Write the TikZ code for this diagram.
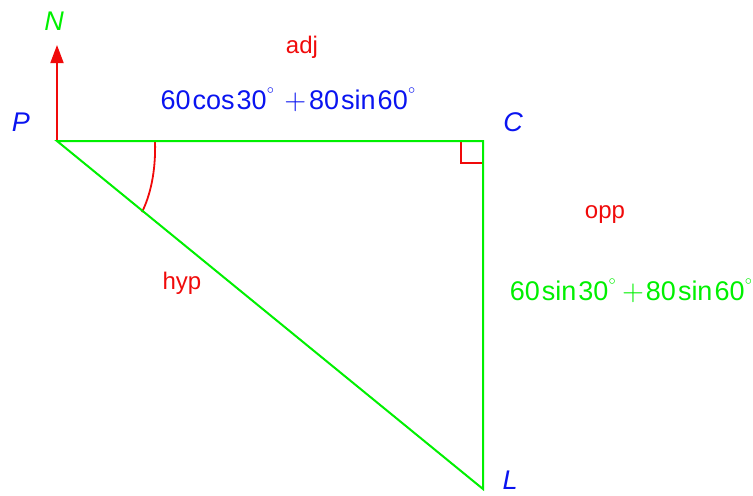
\documentclass[tikz,border=0pt]{standalone}
\usepackage{fontspec}
\setmainfont{Liberation Sans}
\usepackage{tikz}
\usetikzlibrary{arrows.meta}
\definecolor{TriGreen}{HTML}{00F000}
\definecolor{TriBlue}{HTML}{0A14F0}
\definecolor{TriRed}{HTML}{F00A0A}
\newcommand{\dg}{\raisebox{1.1ex}{\fontsize{6}{6}\selectfont$\circ$}}
\tikzset{
  side/.style={TriGreen,line width=1pt},
  redline/.style={TriRed,line width=0.9pt},
  lbl/.style={font=\fontsize{12}{14}\selectfont},
  vallbl/.style={inner sep=0pt,font=\fontsize{13.5}{15}\selectfont},
  vtx/.style={inner sep=0pt,font=\fontsize{13.5}{15}\selectfont\itshape}
}
\begin{document}
\begin{tikzpicture}[x=0.5pt,y=-0.5pt]
\path[use as bounding box] (0,0) rectangle (753,495);
\coordinate (P) at (57,141);
\coordinate (C) at (483,141);
\coordinate (L) at (483,489);
\coordinate (N) at (57,45);
% north arrow
\draw[redline,-{Triangle[length=9pt,width=6.5pt]}] (P) -- (N);
% right angle at C
\draw[redline] (461,141) -- (461,163) -- (483,163);
% angle at P
\coordinate (arcA) at (155,141);
\coordinate (arcB) at (142,212);
\draw[redline] (arcA) .. controls (156,172) and (150,196) .. (arcB);
% triangle
\draw[side] (P) -- (C) -- (L) -- cycle;
% vertices
\node[vtx,TriGreen] (nN) at (54,21) {N};
\node[vtx,TriBlue] (nP) at (21,122) {P};
\node[vtx,TriBlue] (nC) at (513,122) {C};
\node[vtx,TriBlue] (nL) at (510,480) {L};
% sides
\node[lbl,TriRed] (adj) at (302,47) {adj};
\node[vallbl,TriBlue] (adjval) at (288,100) {60\kern1pt cos\kern1pt 30\dg\kern5pt$+$\kern1.5pt80\kern1pt sin\kern1pt 60\dg};
\node[lbl,TriRed] (opp) at (605,215) {opp};
\node[vallbl,TriGreen] (oppval) at (631,291) {60\kern1pt sin\kern1pt 30\dg\kern3pt$+$\kern1pt80\kern1pt sin\kern1pt 60\dg};
\node[lbl,TriRed] (hyp) at (182,283) {hyp};
\end{tikzpicture}
\end{document}
